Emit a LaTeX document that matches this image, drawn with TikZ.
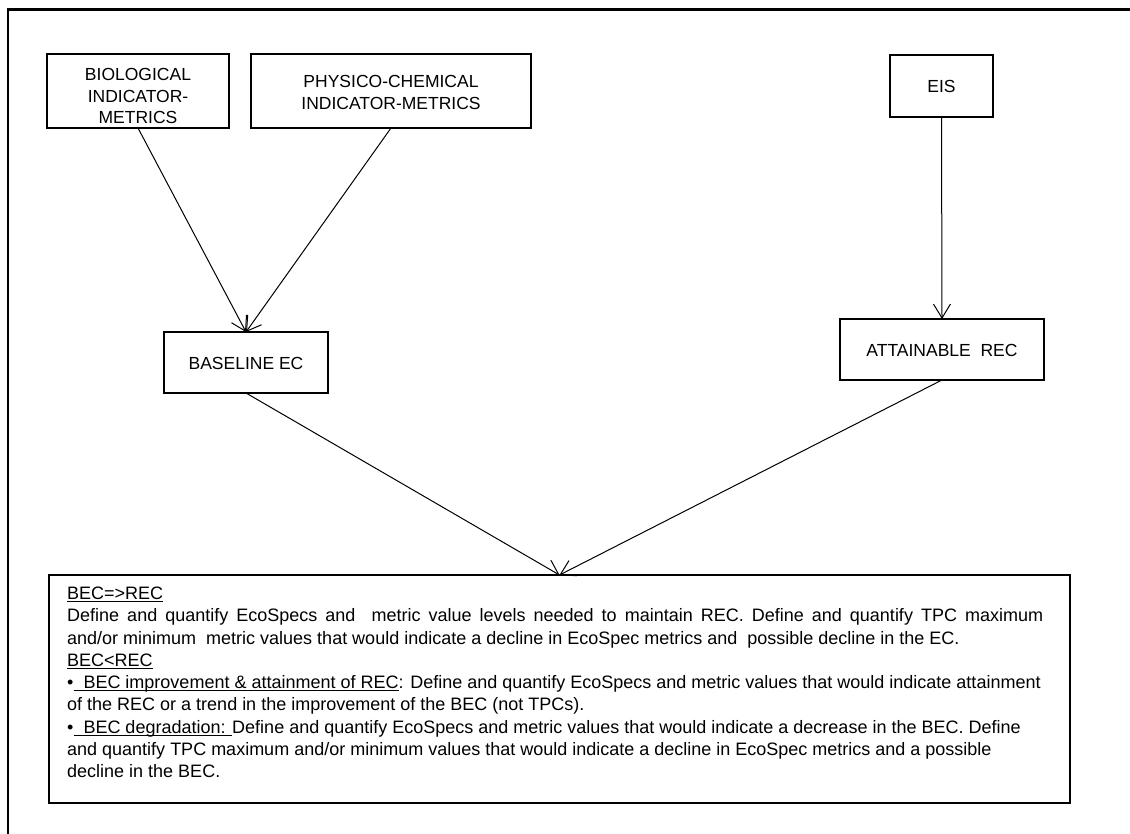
\documentclass[tikz,border=0pt]{standalone}
\usepackage{fontspec}
\setmainfont{Liberation Sans}
\usetikzlibrary{arrows.meta}
\newcommand\myul[1]{\setbox0\hbox{#1}\rlap{\rule[-2.4pt]{\wd0}{0.9pt}}\box0}
\tikzset{
  boxnode/.style={draw, line width=1.3pt, inner sep=0pt, outer sep=0pt},
  lbl/.style={anchor=base, inner sep=0pt, font=\fontsize{17.5}{21.5}\selectfont},
  txtline/.style={anchor=base west, inner sep=0pt, font=\fontsize{18}{22}\selectfont},
  conn/.style={line width=1pt, -{Straight Barb[length=14pt,width=17pt,line width=1pt]}},
  framestyle/.style={line width=2.8pt},
}
\begin{document}
\begin{tikzpicture}[x=1pt,y=-1pt]
\useasboundingbox (0,0) rectangle (1130,834);
\clip (0,0) rectangle (1130,834);
\coordinate (fa) at (1145,9.5);
\coordinate (fb) at (8,9.5);
\coordinate (fc) at (8,850);
\draw[framestyle] (fa) -- (fb) -- (fc);

% boxes
\node[boxnode, minimum width=182pt, minimum height=74pt] (bio) at (138,91) {};
\node[boxnode, minimum width=280pt, minimum height=74pt] (phy) at (391,91) {};
\node[boxnode, minimum width=103pt, minimum height=62pt] (eis) at (941.5,86) {};
\node[boxnode, minimum width=164pt, minimum height=61pt] (base) at (246,362.5) {};
\node[boxnode, minimum width=204pt, minimum height=61pt] (att) at (942,349.5) {};
\node[boxnode, minimum width=1021pt, minimum height=228pt] (tb) at (559.5,689) {};

% labels
\node[lbl] (bio1) at (138,80.5) {BIOLOGICAL};
\node[lbl] (bio2) at (138,102.5) {INDICATOR-};
\node[lbl] (bio3) at (138,124) {METRICS};
\node[lbl] (phy1) at (391,87.5) {PHYSICO-CHEMICAL};
\node[lbl] (phy2) at (391,109.5) {INDICATOR-METRICS};
\node[lbl] (eisT) at (941.5,92.5) {EIS};
\node[lbl] (baseT) at (246,369.5) {BASELINE EC};
\node[lbl] (attT) at (942,356.5) {ATTAINABLE\ \ REC};

% text box lines
\node[txtline] (l1) at (67,599.5) {\myul{BEC=>REC}};
\node[txtline] (l2) at (67,621.75) {\hbox to 976pt{Define and quantify EcoSpecs and\ \ metric value levels needed to maintain REC. Define and quantify TPC maximum}};
\node[txtline] (l3) at (67,644) {and/or minimum\ \ metric values that would indicate a decline in EcoSpec metrics and\ \ possible decline in the EC.};
\node[txtline] (l4) at (67,666.25) {\myul{BEC<REC}};
\node[txtline] (l5) at (67,688.5) {•\myul{\ \ BEC improvement \& attainment of REC}: Define and quantify EcoSpecs and metric values that would indicate attainment};
\node[txtline] (l6) at (67,710.75) {of the REC or a trend in the improvement of the BEC (not TPCs).};
\node[txtline] (l7) at (67,733) {•\myul{\ \ BEC degradation: }Define and quantify EcoSpecs and metric values that would indicate a decrease in the BEC. Define};
\node[txtline] (l8) at (67,755.25) {and quantify TPC maximum and/or minimum values that would indicate a decline in EcoSpec metrics and a possible};
\node[txtline] (l9) at (67,777.5) {decline in the BEC.};

% connectors
\draw[conn] (bio.south) -- (base.north);
\draw[conn] (phy.south) -- (base.north);
\draw[conn] (eis.south) -- (att.north);
\draw[conn] (base.south) -- (tb.north);
\draw[conn] (att.south) -- (tb.north);
\end{tikzpicture}
\end{document}
